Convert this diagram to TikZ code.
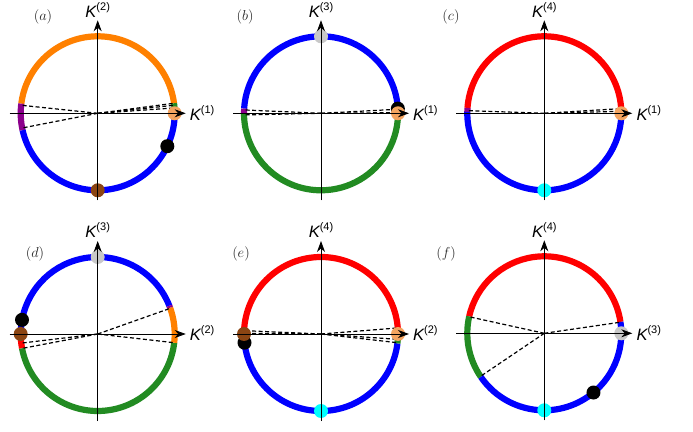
\documentclass[tikz,border=0pt]{standalone}
\usepackage{fontspec}
\newfontfamily\axfont{Liberation Sans}
\usetikzlibrary{arrows.meta,calc}
\definecolor{corange}{RGB}{255,128,0}
\definecolor{cblue}{RGB}{0,0,255}
\definecolor{cgreen}{RGB}{34,139,34}
\definecolor{cred}{RGB}{255,0,0}
\definecolor{cpurple}{RGB}{140,0,140}
\definecolor{cpeach}{RGB}{244,164,96}
\definecolor{cbrown}{RGB}{139,69,19}
\definecolor{cgrey}{RGB}{200,200,200}
\definecolor{ccyan}{RGB}{0,255,255}
\newcommand{\Klab}[1]{{\axfont\fontsize{16.5}{17}\selectfont\itshape K\upshape\raisebox{7pt}{\fontsize{11}{12}\selectfont(#1)}}}
\newcommand{\arcseg}[4]{\draw[segline,#1] ($(#2)+(#3:77pt)$) arc[start angle=#3,end angle=#4,radius=77pt];}
\newcommand{\dray}[3]{\coordinate (#1) at ($(#2)+(#3:77pt)$); \draw[dline] (#2) -- (#1);}
\newcommand{\pdot}[4]{\node[dotnode,fill=#1] (#2) at ($(#3)+(#4:77pt)$) {};}
\newcommand{\paxes}[4]{%
  \coordinate (#1-l) at ($(#1)+(-88pt,0)$);
  \coordinate (#1-r) at ($(#1)+(88pt,0)$);
  \coordinate (#1-b) at ($(#1)+(0,-87pt)$);
  \coordinate (#1-t) at ($(#1)+(0,93pt)$);
  \draw[axisline] (#1-l) -- (#1-r);
  \draw[axisline] (#1-b) -- (#1-t);
  \node[anchor=base west,inner sep=0] (#1-xl) at ($(#1-r)+(4pt,-7pt)$) {\Klab{#2}};
  \node[anchor=base,inner sep=0] (#1-yl) at ($(#1-t)+(0pt,3pt)$) {\Klab{#3}};
  \node[font=\fontsize{14}{15}\selectfont,inner sep=0,text=black!85] (#1-tag) at #4 {$(#1)$};
}
\begin{document}
\begin{tikzpicture}[x=1pt,y=1pt,
  segline/.style={line width=6.2pt},
  dline/.style={line width=1.2pt,dash pattern=on 4pt off 2.5pt},
  dotnode/.style={circle,draw=none,minimum size=14pt,inner sep=0},
  axisline/.style={line width=0.8pt,-{Stealth[length=11pt,width=8pt,inset=3.5pt]}}]
\useasboundingbox[fill=white] (0,0) rectangle (693,431);
\coordinate (a) at (97.7,317.7);
\coordinate (b) at (321,317.7);
\coordinate (c) at (544.3,317.7);
\coordinate (d) at (97.7,97);
\coordinate (e) at (321,97);
\coordinate (f) at (544.3,97.7);
% ---- (a)
\arcseg{corange}{a}{7.5}{172.8}
\arcseg{cpurple}{a}{172.8}{192.7}
\arcseg{cblue}{a}{192.7}{364.5}
\arcseg{cgreen}{a}{4.5}{7.5}
\dray{a-r1}{a}{174}
\dray{a-r2}{a}{191}
\dray{a-r3}{a}{7.5}
\dray{a-r4}{a}{6}
\dray{a-r5}{a}{4}
\pdot{cpeach}{a-d1}{a}{0}
\pdot{black}{a-d2}{a}{-25.3}
\pdot{cbrown}{a-d3}{a}{-90}
% ---- (b)
\arcseg{cblue}{b}{2}{176.5}
\arcseg{cpurple}{b}{176.5}{180.5}
\arcseg{cgreen}{b}{180.5}{362}
\dray{b-r1}{b}{177.5}
\dray{b-r2}{b}{181.2}
\dray{b-r3}{b}{3}
\dray{b-r4}{b}{0.5}
\pdot{cgrey}{b-d1}{b}{90}
\pdot{black}{b-d2}{b}{3.5}
\pdot{cpeach}{b-d3}{b}{0}
% ---- (c)
\arcseg{cred}{c}{2}{176}
\arcseg{cpurple}{c}{176}{179}
\arcseg{cblue}{c}{179}{362}
\dray{c-r1}{c}{178}
\dray{c-r2}{c}{180}
\dray{c-r3}{c}{3.5}
\dray{c-r4}{c}{1.5}
\pdot{cpeach}{c-d1}{c}{0}
\pdot{ccyan}{c-d2}{c}{-90}
% ---- (d)
\arcseg{cblue}{d}{21.5}{181}
\arcseg{cred}{d}{181}{190.7}
\arcseg{cgreen}{d}{190.7}{353.5}
\arcseg{corange}{d}{353.5}{380}
\arcseg{cpurple}{d}{380}{381.5}
\dray{d-r1}{d}{19.5}
\dray{d-r2}{d}{-6.5}
\dray{d-r3}{d}{186.8}
\dray{d-r4}{d}{190.8}
\pdot{cgrey}{d-d1}{d}{90}
\pdot{black}{d-d2}{d}{169.4}
\pdot{cbrown}{d-d3}{d}{180}
% ---- (e)
\arcseg{cred}{e}{3}{178}
\arcseg{cblue}{e}{183}{353}
\arcseg{cgreen}{e}{353}{356.5}
\dray{e-r1}{e}{177.5}
\dray{e-r2}{e}{179.5}
\dray{e-r3}{e}{4.5}
\dray{e-r4}{e}{-4}
\dray{e-r5}{e}{-6.5}
\pdot{ccyan}{e-d1}{e}{-90}
\pdot{black}{e-d2}{e}{186.5}
\pdot{cbrown}{e-d3}{e}{180}
\pdot{cpeach}{e-d4}{e}{0}
% ---- (f)
\arcseg{cred}{f}{8.5}{167.3}
\arcseg{cgreen}{f}{167.3}{214.5}
\arcseg{cblue}{f}{214.5}{368.5}
\dray{f-r1}{f}{8.3}
\dray{f-r2}{f}{167.6}
\dray{f-r3}{f}{214}
\pdot{cgrey}{f-d1}{f}{0}
\pdot{black}{f-d2}{f}{-50.3}
\pdot{ccyan}{f-d3}{f}{-90}
% ---- axes and labels
\paxes{a}{1}{2}{(43,414)}
\paxes{b}{1}{3}{(245,414)}
\paxes{c}{1}{4}{(451,414)}
\paxes{d}{2}{3}{(35,177)}
\paxes{e}{2}{4}{(241,177)}
\paxes{f}{3}{4}{(446,177)}
\end{tikzpicture}
\end{document}
